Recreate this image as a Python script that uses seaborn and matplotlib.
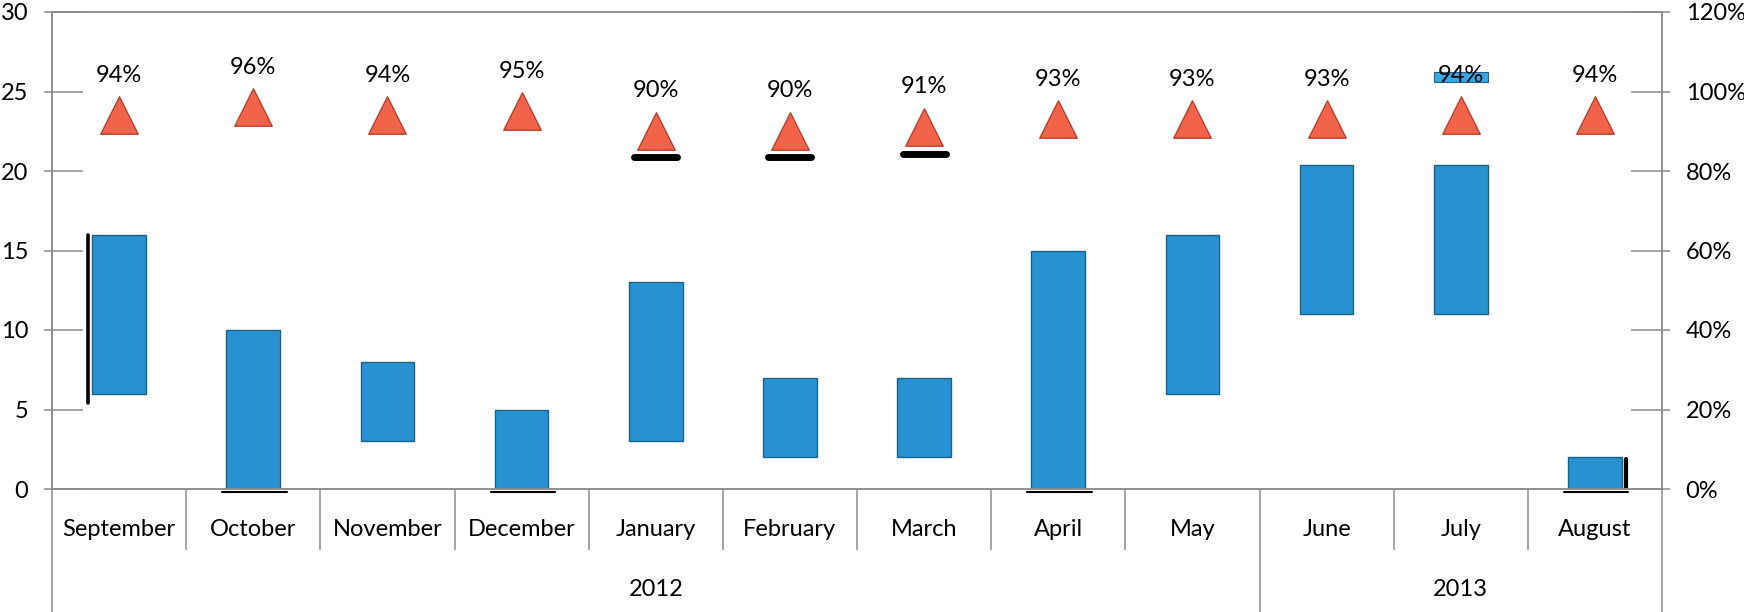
import numpy as np
import pandas as pd
import matplotlib
matplotlib.use("Agg")
import matplotlib.pyplot as plt
import seaborn as sns
from matplotlib.ticker import FixedLocator

# ---------------- data ----------------
months = ["September", "October", "November", "December", "January", "February",
          "March", "April", "May", "June", "July", "August"]
years = ["2012", "2013"]
months_per_year = [9, 3]
bar_low = [6, 0, 3, 0, 3, 2, 2, 0, 6, 11, 11, 0]
bar_high = [16, 10, 8, 5, 13, 7, 7, 15, 16, 20.4, 20.4, 2]
extra_month = ["July"]
extra_low = [25.6]
extra_high = [26.2]
pct = [94, 96, 94, 95, 90, 90, 91, 93, 93, 93, 94, 94]
left_ticks = [0, 5, 10, 15, 20, 25, 30]
right_ticks = [0, 20, 40, 60, 80, 100, 120]

# ---------------- style ----------------
BLUE = "#2792CF"
BLUE_EDGE = "#1A628E"
TRI = "#F3624A"
TRI_EDGE = "#B9432F"
GRAY = "#8C8C8C"
FS = 17

sns.set_theme(style="white")
plt.rcParams["font.family"] = ["Lato", "DejaVu Sans"]

W, H = 1744, 612
fig = plt.figure(figsize=(W / 100, H / 100), dpi=100)
x0, x1, ytop, yzero = 52, 1662, 12, 489
ax = fig.add_axes([x0 / W, 1 - yzero / H, (x1 - x0) / W, (yzero - ytop) / H])

df = pd.DataFrame({"month": months, "low": bar_low, "high": bar_high})
df["span"] = df["high"] - df["low"]
BW = 0.4
sns.barplot(data=df, x="month", y="span", order=months, bottom=df["low"].to_numpy(),
            width=BW, color=BLUE, saturation=1, edgecolor=BLUE_EDGE, linewidth=1.0,
            errorbar=None, ax=ax)
dfe = pd.DataFrame({"month": extra_month, "low": extra_low, "high": extra_high})
dfe["span"] = dfe["high"] - dfe["low"]
sns.barplot(data=dfe, x="month", y="span", order=months, bottom=dfe["low"].to_numpy(),
            width=BW, color="#3AA6E0", saturation=1, edgecolor=BLUE_EDGE, linewidth=0.8,
            errorbar=None, ax=ax)

ax.set_xlim(-0.5, len(months) - 0.5)
ax.set_ylim(0, 30)
ax.set_xlabel("")
ax.set_ylabel("")
ax.set_xticks([])

# left axis ticks (inward major + outward minor at same spots)
ax.set_yticks(left_ticks)
ax.set_yticklabels([str(v) for v in left_ticks], fontsize=FS)
ax.yaxis.set_minor_locator(FixedLocator(left_ticks))
ax.yaxis.remove_overlapping_locs = False
ax.tick_params(axis="y", which="major", direction="in", length=22, width=1.1,
               color=GRAY, pad=17, labelcolor="black", left=True, right=False)
ax.tick_params(axis="y", which="minor", direction="out", length=5.8, width=1.1,
               color=GRAY, left=True, right=False)
for s in ax.spines.values():
    s.set_color(GRAY)
    s.set_linewidth(1.1)

# render artefacts (black shadows) seen in the reference
xi = np.arange(len(months))
ax.plot([xi[0] - BW / 2 - 0.035] * 2, [bar_low[0] - 0.6, bar_high[0]], color="black",
        lw=2.6, solid_capstyle="round", zorder=1)
for i in [1, 3, 7, 11]:
    ax.plot([xi[i] - BW / 2 - 0.03, xi[i] + BW / 2 + 0.05], [-0.2, -0.2], color="black",
            lw=1.5, clip_on=False, zorder=1)
ax.plot([xi[11] + BW / 2 + 0.03] * 2, [-0.2, bar_high[11] - 0.1], color="black",
        lw=3, zorder=1)

# ---------------- right axis with triangles ----------------
ax2 = ax.twinx()
sns.scatterplot(x=xi, y=pct, marker="^", s=27 ** 2, color=TRI, edgecolor=TRI_EDGE,
                linewidth=1.0, ax=ax2, zorder=5)
for i in [4, 5, 6]:
    ax2.plot([xi[i] - 0.16, xi[i] + 0.16], [pct[i] - 6.6, pct[i] - 6.6], color="black",
             lw=5, solid_capstyle="round", zorder=2)
ax2.set_ylim(0, 120)
ax2.set_xlim(-0.5, len(months) - 0.5)
ax2.set_yticks(right_ticks)
ax2.set_yticklabels([f"{v}%" for v in right_ticks], fontsize=FS)
ax2.yaxis.set_minor_locator(FixedLocator(right_ticks))
ax2.yaxis.remove_overlapping_locs = False
ax2.tick_params(axis="y", which="major", direction="in", length=22, width=1.1,
                color=GRAY, pad=17, labelcolor="black", right=True, left=False)
ax2.tick_params(axis="y", which="minor", direction="out", length=5.8, width=1.1,
                color=GRAY, right=True, left=False)
ax2.set_xlabel("")
ax2.set_ylabel("")
for s in ax2.spines.values():
    s.set_color(GRAY)
    s.set_linewidth(1.1)
for i, p in enumerate(pct):
    ax2.annotate(f"{p}%", (xi[i], p), xytext=(0, 29), textcoords="offset points",
                 ha="center", va="center", fontsize=FS, color="black")

# ---------------- multi-level category axis ----------------
trans = ax.get_xaxis_transform()
axh = yzero - ytop
y_month = -(530 - yzero) / axh
y_year = -(590 - yzero) / axh
y_msep = -(550 - yzero) / axh
y_ysep = -(H - yzero) / axh
for i, m in enumerate(months):
    ax.text(xi[i], y_month, m, transform=trans, ha="center", va="center",
            fontsize=FS, color="black", clip_on=False)
bounds = np.concatenate([[0], np.cumsum(months_per_year)]) - 0.5
ax.vlines([b for b in np.arange(len(months) + 1) - 0.5 if b not in bounds],
          y_msep, 0, transform=trans, color=GRAY, lw=1.1, clip_on=False)
ax.vlines(bounds, y_ysep, 0, transform=trans, color=GRAY, lw=1.1, clip_on=False)
for k, yr in enumerate(years):
    ax.text((bounds[k] + bounds[k + 1]) / 2, y_year, yr, transform=trans, ha="center",
            va="center", fontsize=FS, color="black", clip_on=False)

fig.savefig("out.png", dpi=100, facecolor="white")
